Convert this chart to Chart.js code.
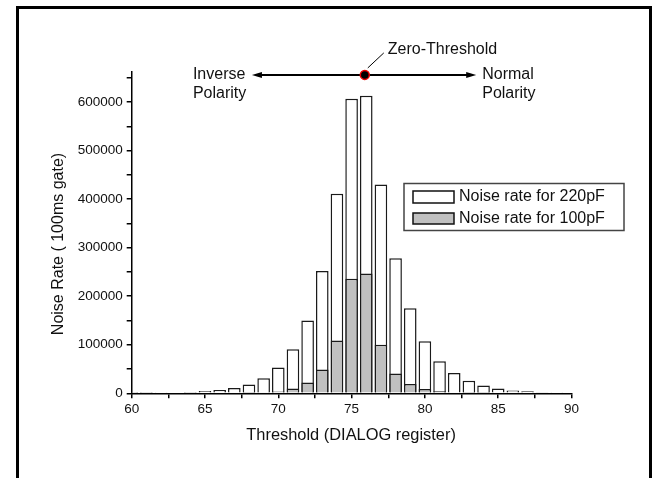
<!DOCTYPE html>
<html>
<head>
<meta charset="utf-8">
<script src="https://cdn.jsdelivr.net/npm/chart.js@4"></script>
<style>
  body { margin: 0; background: #fff; }
  canvas { display: block; }
</style>
</head>
<body>
<canvas id="noiseChart" width="660" height="478"></canvas>
<script>
// Threshold values (DIALOG register)
const thresholds = [60, 61, 62, 63, 64, 65, 66, 67, 68, 69, 70, 71, 72, 73, 74,
                    75, 76, 77, 78, 79, 80, 81, 82, 83, 84, 85, 86, 87, 88, 89];
// Noise rate for 220pF (100ms gate)
const rate220 = [300, 600, 1000, 1500, 2500, 4500, 7000, 11000, 18000, 31000, 53000, 91000, 150000, 252000, 411000,
                 607000, 613000, 430000, 278000, 175000, 107000, 66000, 42000, 26000, 16000, 10000, 6000, 4000, 2000, 1200];
// Noise rate for 100pF (100ms gate)
const rate100 = [null, null, null, null, null, null, null, null, 500, 1000, 3500, 10000, 22000, 49000, 109000,
                 236000, 247000, 100000, 41000, 19000, 9000, 4000, 1500, 600, 300, null, null, null, null, null];

// axis ticks (major ones get a label)
const yTicks = [0, 50000, 100000, 150000, 200000, 250000, 300000, 350000, 400000, 450000, 500000, 550000, 600000, 650000];
const yLabelled = [0, 100000, 200000, 300000, 400000, 500000, 600000];
const xTicks = [60, 62.5, 65, 67.5, 70, 72.5, 75, 77.5, 80, 82.5, 85, 87.5, 90];
const xLabelled = [60, 65, 70, 75, 80, 85, 90];

const legendLabels = ['Noise rate for 220pF', 'Noise rate for 100pF'];
const xTitle = 'Threshold (DIALOG register)';
const yTitle = 'Noise Rate ( 100ms gate)';

// polarity annotation (in data units)
const zeroThreshold = 75.9;
const arrowFrom = 68.2;
const arrowTo = 83.5;
const arrowLevel = 656000;

const FONT = '"Liberation Sans", Arial, sans-serif';

const decorations = {
    id: 'decorations',
    afterDraw(chart) {
        const ctx = chart.ctx;
        const xs = chart.scales.x;
        const ys = chart.scales.y;
        ctx.save();

        // axis titles
        ctx.fillStyle = '#111';
        ctx.textAlign = 'center';
        ctx.textBaseline = 'middle';
        ctx.font = '16.4px ' + FONT;
        ctx.fillText(xTitle, (xs.left + xs.right) / 2 - 0.5, 435);
        ctx.save();
        ctx.font = '16px ' + FONT;
        ctx.translate(59, 244);
        ctx.rotate(-Math.PI / 2);
        ctx.fillText(yTitle, 0, 0);
        ctx.restore();

        // polarity arrow
        const ay = ys.getPixelForValue(arrowLevel);
        const x1 = xs.getPixelForValue(arrowFrom);
        const x2 = xs.getPixelForValue(arrowTo);
        const xc = xs.getPixelForValue(zeroThreshold);
        ctx.strokeStyle = '#000';
        ctx.fillStyle = '#000';
        ctx.lineWidth = 2;
        ctx.beginPath();
        ctx.moveTo(x1 + 6, ay);
        ctx.lineTo(x2 - 6, ay);
        ctx.stroke();
        ctx.beginPath();
        ctx.moveTo(x1, ay);
        ctx.lineTo(x1 + 10, ay - 3);
        ctx.lineTo(x1 + 10, ay + 3);
        ctx.closePath();
        ctx.fill();
        ctx.beginPath();
        ctx.moveTo(x2, ay);
        ctx.lineTo(x2 - 10, ay - 3);
        ctx.lineTo(x2 - 10, ay + 3);
        ctx.closePath();
        ctx.fill();

        // zero-threshold dot + leader
        ctx.lineWidth = 1;
        ctx.beginPath();
        ctx.moveTo(xc + 3, ay - 7);
        ctx.lineTo(xc + 19, ay - 22);
        ctx.stroke();
        ctx.beginPath();
        ctx.arc(xc, ay, 4.5, 0, Math.PI * 2);
        ctx.fillStyle = '#000';
        ctx.fill();
        ctx.strokeStyle = '#e00';
        ctx.lineWidth = 1.5;
        ctx.stroke();

        ctx.fillStyle = '#111';
        ctx.font = '16px ' + FONT;
        ctx.textAlign = 'left';
        ctx.textBaseline = 'middle';
        ctx.fillText('Zero-Threshold', xc + 23, ay - 25);
        ctx.fillText('Inverse', x1 - 59, ay);
        ctx.fillText('Polarity', x1 - 59, ay + 19);
        ctx.fillText('Normal', x2 + 6, ay);
        ctx.fillText('Polarity', x2 + 6, ay + 19);

        // legend box
        ctx.strokeStyle = '#444';
        ctx.lineWidth = 1.5;
        ctx.strokeRect(404, 183.5, 220, 47);
        ctx.fillStyle = '#fff';
        ctx.fillRect(413, 191, 41, 12);
        ctx.strokeStyle = '#111';
        ctx.strokeRect(413, 191, 41, 12);
        ctx.fillStyle = '#c0c0c0';
        ctx.fillRect(413, 213, 41, 11);
        ctx.strokeRect(413, 213, 41, 11);
        ctx.fillStyle = '#111';
        ctx.font = '16px ' + FONT;
        ctx.fillText(legendLabels[0], 459, 197);
        ctx.fillText(legendLabels[1], 459, 219);

        // outer frame
        ctx.strokeStyle = '#000';
        ctx.lineWidth = 3;
        ctx.strokeRect(17.5, 7.5, 633, 480);
        ctx.restore();
    }
};

new Chart(document.getElementById('noiseChart'), {
    type: 'bar',
    data: {
        labels: thresholds,
        datasets: [{
            label: legendLabels[0],
            data: thresholds.map((t, i) => ({ x: t, y: rate220[i] })),
            backgroundColor: '#ffffff',
            borderColor: '#1a1a1a',
            borderWidth: 1.5,
            order: 2
        }, {
            label: legendLabels[1],
            data: thresholds.map((t, i) => ({ x: t, y: rate100[i] })),
            backgroundColor: '#c0c0c0',
            borderColor: '#1a1a1a',
            borderWidth: 1.5,
            order: 1
        }]
    },
    options: {
        responsive: false,
        animation: false,
        devicePixelRatio: 1,
        grouped: false,
        barPercentage: 0.86,
        categoryPercentage: 1,
        layout: { padding: { left: 0, top: 72, right: 88.5, bottom: 0 } },
        plugins: {
            legend: { display: false },
            tooltip: { enabled: false }
        },
        scales: {
            x: {
                type: 'linear',
                min: 60,
                max: 90,
                offset: false,
                afterFit: (s) => { s.height = 478 - 72 - 321.3; },
                afterBuildTicks: (s) => { s.ticks = xTicks.map(v => ({ value: v })); },
                ticks: {
                    autoSkip: false,
                    maxRotation: 0,
                    padding: 3,
                    color: '#111',
                    font: { family: FONT, size: 13.5 },
                    callback: (v) => (xLabelled.includes(v) ? String(v) : '')
                },
                grid: { offset: false, drawOnChartArea: false, drawTicks: true, tickLength: 5, color: '#000', lineWidth: 1.5 },
                border: { display: true, color: '#000', width: 1.5 }
            },
            y: {
                min: 0,
                max: 662000,
                afterFit: (s) => { s.width = 131.7; },
                afterBuildTicks: (s) => { s.ticks = yTicks.map(v => ({ value: v })); },
                ticks: {
                    autoSkip: false,
                    padding: 4,
                    color: '#111',
                    font: { family: FONT, size: 13.5 },
                    callback: (v) => (yLabelled.includes(v) ? String(v) : '')
                },
                grid: { drawOnChartArea: false, drawTicks: true, tickLength: 5, color: '#000', lineWidth: 1.5 },
                border: { display: true, color: '#000', width: 1.5 }
            }
        }
    },
    plugins: [decorations]
});
</script>
</body>
</html>
